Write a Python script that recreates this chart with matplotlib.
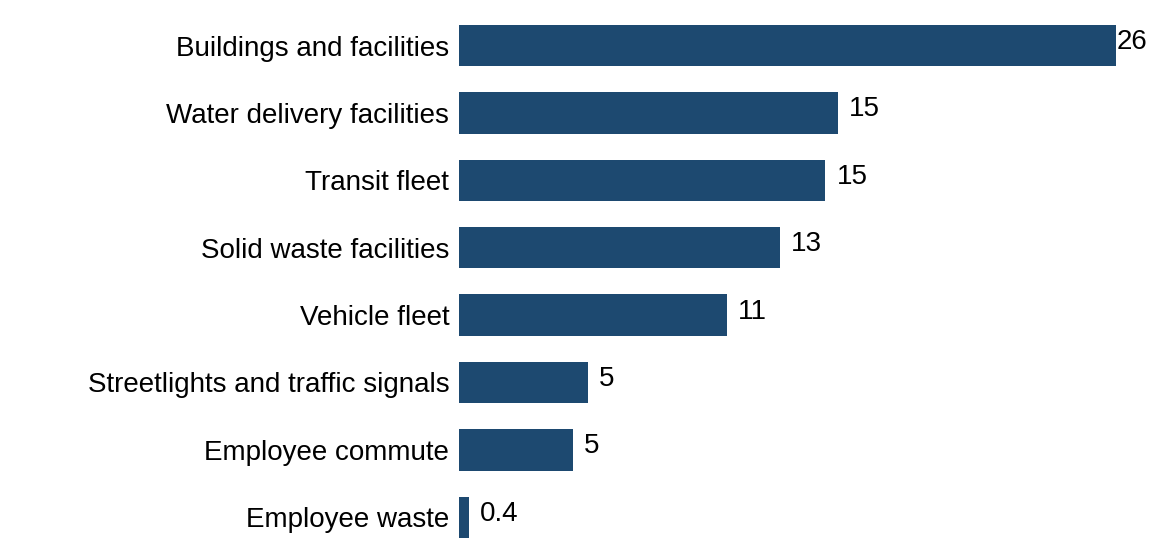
import matplotlib
matplotlib.use("Agg")
import matplotlib.pyplot as plt

plt.rcParams['font.family'] = ['Liberation Sans', 'DejaVu Sans']

categories = [
    "Buildings and facilities",
    "Water delivery facilities",
    "Transit fleet",
    "Solid waste facilities",
    "Vehicle fleet",
    "Streetlights and traffic signals",
    "Employee commute",
    "Employee waste",
]
values = [26.0, 15.0, 14.5, 12.7, 10.6, 5.1, 4.5, 0.4]

BAR_COLOR = "#1d4970"


def fmt(v):
    # round half up for whole numbers, keep one decimal below 1
    if v < 1:
        return f"{v:.1f}"
    return str(int(v + 0.5))


fig = plt.figure(figsize=(11.54, 5.57), dpi=100)
ax = fig.add_axes([0.3977, 0.0108, 0.5694, 0.968])

ypos = list(range(len(categories)))
ax.barh(ypos, values, height=0.614, color=BAR_COLOR)
ax.set_xlim(0, max(values))
ax.set_ylim(len(categories) - 0.5, -0.5)

ax.set_yticks(ypos)
ax.set_yticklabels(categories, fontsize=20)
ax.tick_params(axis='y', length=0, pad=7)
ax.set_xticks([])
for s in ax.spines.values():
    s.set_visible(False)

# value labels sit just right of each bar, nudged a little upward;
# the longest bar gets its label tight against the end so it fits
vmax = max(values)
for y, v in zip(ypos, values):
    dx = 0.5 if v == vmax else 8
    ax.annotate(fmt(v), xy=(v, y), xytext=(dx, 2.5), textcoords='offset points',
                ha='left', va='center', fontsize=20, annotation_clip=False)

fig.savefig("out.png", dpi=100)
